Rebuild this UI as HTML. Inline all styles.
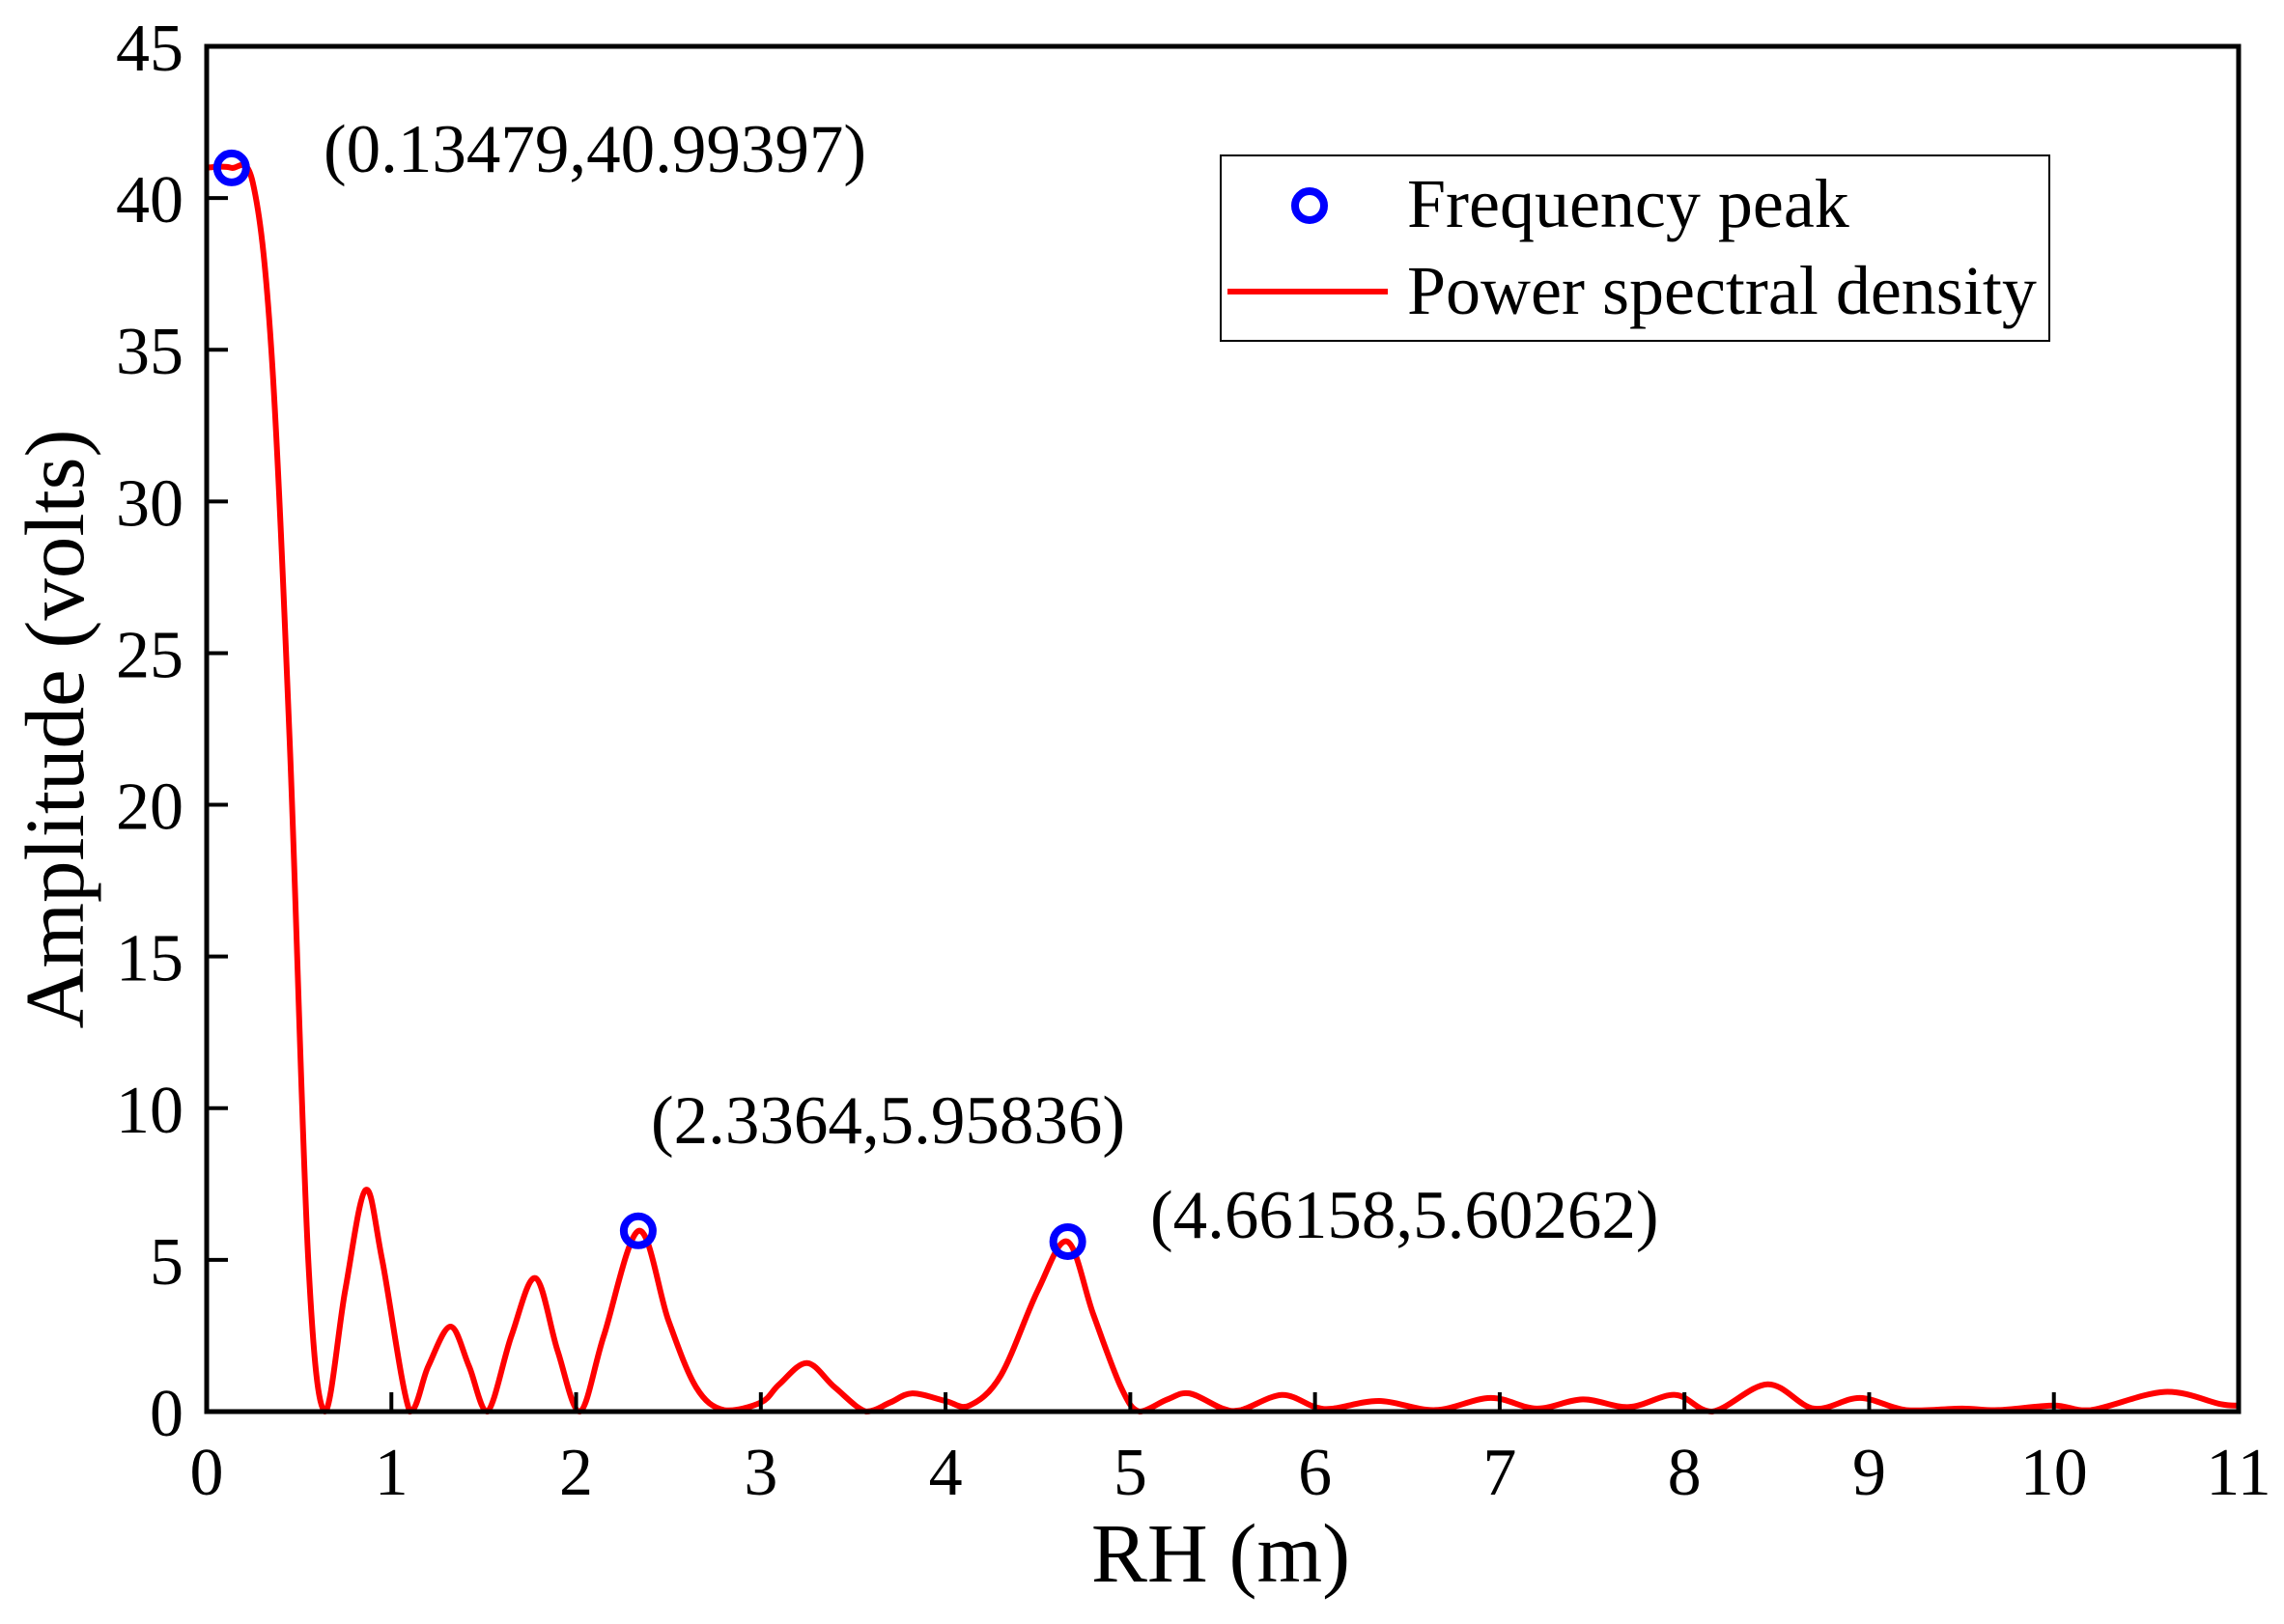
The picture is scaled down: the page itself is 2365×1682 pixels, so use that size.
<!DOCTYPE html>
<html><head><meta charset="utf-8"><style>
html,body{margin:0;padding:0;background:#fff;}
svg{display:block;font-family:"Liberation Serif",serif;}
</style></head><body>
<svg id="chart" width="2365" height="1682" viewBox="0 0 2365 1682" xmlns="http://www.w3.org/2000/svg">
<rect width="2365" height="1682" fill="#fff"/>
<g id="plot"></g>
</svg>
<script>
const xVals=[0,0.13,0.25,0.35,0.45,0.55,0.64,0.75,0.86,0.95,1.1,1.2,1.32,1.42,1.52,1.65,1.78,1.9,2.02,2.15,2.34,2.5,2.65,2.8,3.0,3.1,3.25,3.4,3.57,3.7,3.82,4.0,4.13,4.3,4.5,4.66,4.8,4.95,5.05,5.2,5.32,5.5,5.6,5.82,6.0,6.1,6.35,6.65,6.95,7.2,7.45,7.7,7.95,8.15,8.45,8.7,8.95,9.2,9.5,9.7,10.0,10.2,10.6,10.9,11];
const yVals=[41,41,40.5,35,22,5,0,4,7.3,5,0,1.5,2.8,1.5,0,2.5,4.4,2,0,2.5,5.96,3,0.8,0.05,0.3,0.9,1.6,0.8,0,0.3,0.6,0.35,0.2,1.2,4,5.6,3.2,0.8,0,0.4,0.6,0.1,0.05,0.55,0.15,0.1,0.35,0.05,0.45,0.1,0.4,0.15,0.55,0,0.9,0.1,0.45,0.05,0.1,0.05,0.2,0.05,0.65,0.25,0.2];
const peakX=[0.13479,2.3364,4.66158];
const peakY=[40.99397,5.95836,5.60262];
const peakLabels=["(0.13479,40.99397)","(2.3364,5.95836)","(4.66158,5.60262)"];
const xTicks=[0,1,2,3,4,5,6,7,8,9,10,11];
const yTicks=[0,5,10,15,20,25,30,35,40,45];

const L=214,R=2318,T=48,B=1462;
const sx=v=>L+(v/11)*(R-L);
const sy=v=>B-(v/45)*(B-T);
const NS="http://www.w3.org/2000/svg";
const g=document.getElementById('plot');
function mk(tag,attrs,parent){const e=document.createElementNS(NS,tag);for(const k in attrs)e.setAttribute(k,attrs[k]);(parent||g).appendChild(e);return e;}

const pts=xVals.map((x,i)=>[sx(x),sy(yVals[i])]);
let d=`M${pts[0][0]},${pts[0][1]}`;
for(let i=0;i<pts.length-1;i++){
  const p0=pts[Math.max(0,i-1)],p1=pts[i],p2=pts[i+1],p3=pts[Math.min(pts.length-1,i+2)];
  const c1=[p1[0]+(p2[0]-p0[0])/6,Math.min(B,p1[1]+(p2[1]-p0[1])/6)];
  const c2=[p2[0]-(p3[0]-p1[0])/6,Math.min(B,p2[1]-(p3[1]-p1[1])/6)];
  d+=` C${c1[0]},${c1[1]} ${c2[0]},${c2[1]} ${p2[0]},${p2[1]}`;
}
const line=mk('path',{d:d,fill:'none',stroke:'#ff0000','stroke-width':6,'stroke-linejoin':'round'});



const frame=mk('rect',{x:L,y:T,width:R-L,height:B-T,fill:'none',stroke:'#000','stroke-width':5});



xTicks.forEach(v=>{
  const t=mk('line',{x1:sx(v),x2:sx(v),y1:B,y2:B-20,stroke:'#000','stroke-width':4});
  
  
  const lb=mk('text',{x:sx(v),y:1548,'font-size':70,'text-anchor':'middle'});
  lb.textContent=v;
  
  
});
yTicks.forEach(v=>{
  const t=mk('line',{x1:L,x2:L+22,y1:sy(v),y2:sy(v),stroke:'#000','stroke-width':4});
  
  
  const lb=mk('text',{x:190,y:sy(v)+25,'font-size':70,'text-anchor':'end'});
  lb.textContent=v;
  
  
});

const annPos=[[335,178],[674,1184],[1191,1282]];
peakX.forEach((x,i)=>{
  const c=mk('circle',{cx:sx(x),cy:sy(peakY[i]),r:15,fill:'none',stroke:'#0000ff','stroke-width':8});
  
  
  const t=mk('text',{x:annPos[i][0],y:annPos[i][1],'font-size':71});
  t.textContent=peakLabels[i];
  
  
});

const xt=mk('text',{x:1264,y:1638,'font-size':87,'text-anchor':'middle'});
xt.textContent='RH (m)';


const yt=mk('text',{x:0,y:0,'font-size':87,'text-anchor':'middle',transform:'translate(86,755) rotate(-90)'});
yt.textContent='Amplitude (volts)';



const lg=mk('g',{});


mk('rect',{x:1264,y:161,width:858,height:192,fill:'#fff',stroke:'#000','stroke-width':2},lg);
const lm=mk('circle',{cx:1356,cy:213,r:15,fill:'none',stroke:'#0000ff','stroke-width':8},lg);


const l1=mk('text',{x:1457,y:235,'font-size':72},lg);
l1.textContent='Frequency peak';


const ll=mk('line',{x1:1271,x2:1437,y1:302,y2:302,stroke:'#ff0000','stroke-width':6},lg);


const l2=mk('text',{x:1457,y:325,'font-size':72},lg);
l2.textContent='Power spectral density';


</script>
</body></html>
